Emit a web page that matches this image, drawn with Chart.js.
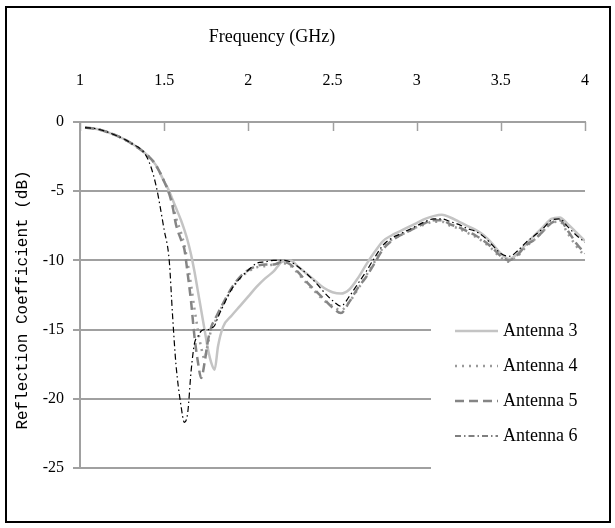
<!DOCTYPE html>
<html>
<head>
<meta charset="utf-8">
<script src="https://cdn.jsdelivr.net/npm/chart.js@4.4.1/dist/chart.umd.min.js"></script>
<style>
  body { margin: 0; background: #fff; }
  canvas { display: block; }
</style>
</head>
<body>
<canvas id="s11Chart" width="615" height="528"></canvas>
<script>
// Frequency samples (GHz) shared by all series
const freqs = [1.03, 1.1, 1.2, 1.3, 1.4, 1.45, 1.5, 1.53, 1.55, 1.57, 1.6, 1.62, 1.64, 1.66, 1.68, 1.7,
    1.72, 1.74, 1.76, 1.78, 1.8, 1.82, 1.85, 1.9, 1.95, 2.0, 2.05, 2.1, 2.15, 2.2, 2.25, 2.3, 2.35,
    2.4, 2.45, 2.5, 2.55, 2.6, 2.65, 2.7, 2.75, 2.8, 2.85, 2.9, 2.95, 3.0, 3.05, 3.1, 3.15, 3.2,
    3.25, 3.3, 3.35, 3.4, 3.45, 3.5, 3.55, 3.6, 3.65, 3.7, 3.75, 3.8, 3.85, 3.9, 3.95, 4.0];

// Reflection coefficient (dB) per antenna
const antenna3 = [-0.4, -0.5, -0.9, -1.5, -2.4, -3.1, -4.3, -5.0, -5.6, -6.2, -7.1, -7.8, -8.6, -9.6, -10.8, -12.2,
    -13.6, -15.0, -16.4, -17.4, -17.9, -16.2, -14.8, -14.0, -13.3, -12.6, -11.9, -11.3, -10.8, -10.1, -10.0, -10.5, -11.0,
    -11.5, -12.0, -12.3, -12.4, -12.1, -11.3, -10.3, -9.4, -8.6, -8.2, -7.9, -7.6, -7.3, -7.0, -6.8, -6.7, -6.9,
    -7.2, -7.5, -7.8, -8.2, -8.8, -9.5, -9.9, -9.5, -8.8, -8.2, -7.6, -7.0, -6.9, -7.4, -8.0, -8.6];
const antenna4 = [-0.4, -0.5, -0.9, -1.5, -2.4, -3.1, -4.3, -5.1, -5.9, -6.9, -8.0, -8.9, -10.2, -11.8, -13.5, -15.0,
    -16.3, -17.1, -16.0, -15.0, -14.5, -13.9, -13.2, -12.1, -11.3, -10.8, -10.5, -10.4, -10.3, -10.2, -10.4, -11.0, -11.7,
    -12.3, -12.9, -13.3, -13.6, -13.0, -12.1, -11.1, -10.1, -9.1, -8.5, -8.2, -7.9, -7.6, -7.4, -7.2, -7.2, -7.5,
    -7.7, -8.0, -8.3, -8.7, -9.2, -9.8, -10.1, -9.7, -9.0, -8.5, -7.9, -7.3, -7.2, -8.1, -9.0, -9.7];
const antenna5 = [-0.4, -0.5, -0.9, -1.5, -2.4, -3.1, -4.3, -5.2, -6.1, -7.4, -8.5, -9.2, -11.0, -13.0, -15.5, -17.3,
    -18.5, -17.4, -15.8, -14.8, -14.3, -13.8, -13.1, -12.0, -11.2, -10.7, -10.4, -10.3, -10.3, -10.1, -10.3, -10.9, -11.6,
    -12.2, -12.8, -13.4, -13.8, -13.0, -12.0, -11.2, -10.2, -9.2, -8.6, -8.2, -7.9, -7.6, -7.3, -7.1, -7.1, -7.4,
    -7.6, -7.9, -8.2, -8.6, -9.1, -9.7, -10.0, -9.6, -8.9, -8.5, -7.9, -7.3, -7.1, -7.9, -8.8, -9.5];
const antenna6 = [-0.4, -0.5, -0.9, -1.5, -2.6, -4.5, -7.8, -10.0, -14.0, -17.5, -20.5, -21.7, -21.0, -18.0, -16.0, -15.5,
    -15.1, -15.0, -15.0, -14.9, -14.7, -14.1, -13.3, -12.1, -11.3, -10.7, -10.2, -10.1, -10.0, -10.0, -10.1, -10.5, -11.0,
    -11.6, -12.3, -12.9, -13.3, -12.6, -11.7, -10.8, -9.8, -8.9, -8.4, -8.1, -7.8, -7.5, -7.2, -7.0, -7.0, -7.2,
    -7.4, -7.7, -7.9, -8.3, -8.9, -9.5, -9.7, -9.3, -8.7, -8.2, -7.7, -7.1, -7.0, -7.6, -8.2, -8.7];

const seriesNames = ['Antenna 3', 'Antenna 4', 'Antenna 5', 'Antenna 6'];
const xTicks = [1, 1.5, 2, 2.5, 3, 3.5, 4];
const yTicks = [0, -5, -10, -15, -20, -25];

const AXIS_GRAY = '#a0a0a0';

function toPoints(values) {
    return freqs.map((f, i) => ({ x: f, y: values[i] }));
}

/**
 * Frame, titles, inward x ticks and the overlaid legend box
 */
const decorPlugin = {
    id: 'decor',
    beforeDraw(chart) {
        const ctx = chart.ctx;
        ctx.save();
        ctx.fillStyle = '#fff';
        ctx.fillRect(0, 0, chart.width, chart.height);
        ctx.restore();
    },
    afterDatasetsDraw(chart) {
        const ctx = chart.ctx;
        const xs = chart.scales.x;
        const area = chart.chartArea;
        ctx.save();

        // inward tick marks on the top axis
        ctx.strokeStyle = AXIS_GRAY;
        ctx.lineWidth = 1.5;
        xTicks.forEach(v => {
            const px = Math.round(xs.getPixelForValue(v)) + 0.5;
            ctx.beginPath();
            ctx.moveTo(px, area.top);
            ctx.lineTo(px, area.top + 9);
            ctx.stroke();
        });

        // legend box over the plot
        ctx.fillStyle = '#fff';
        ctx.fillRect(431, 300, 158, 176);
        const rows = [331, 366, 401, 436];
        chart.data.datasets.forEach((ds, i) => {
            const y = rows[i];
            ctx.beginPath();
            ctx.strokeStyle = ds.borderColor;
            ctx.lineWidth = ds.borderWidth;
            ctx.setLineDash(ds.borderDash || []);
            ctx.moveTo(455, y);
            ctx.lineTo(498, y);
            ctx.stroke();
            ctx.setLineDash([]);
            ctx.fillStyle = '#000';
            ctx.font = '18px "Liberation Serif"';
            ctx.textAlign = 'left';
            ctx.textBaseline = 'middle';
            ctx.fillText(seriesNames[i], 503, y);
        });

        // axis titles
        ctx.fillStyle = '#000';
        ctx.font = '18px "Liberation Serif"';
        ctx.textAlign = 'center';
        ctx.textBaseline = 'middle';
        ctx.fillText('Frequency (GHz)', 272, 37);

        ctx.translate(23, 300);
        ctx.rotate(-Math.PI / 2);
        ctx.font = '16px "Liberation Mono"';
        ctx.fillText('Reflection Coefficient (dB)', 0, 0);
        ctx.restore();

        // outer frame
        ctx.save();
        ctx.strokeStyle = '#000';
        ctx.lineWidth = 2;
        ctx.strokeRect(6, 7, 604, 515);
        ctx.restore();
    }
};

const ctx = document.getElementById('s11Chart').getContext('2d');

new Chart(ctx, {
    type: 'line',
    data: {
        datasets: [{
            label: seriesNames[0],
            data: toPoints(antenna3),
            borderColor: '#c4c4c4',
            borderWidth: 2.5,
            order: 4
        }, {
            label: seriesNames[1],
            data: toPoints(antenna4),
            borderColor: '#9a9a9a',
            borderWidth: 2.5,
            borderDash: [2, 5],
            order: 3
        }, {
            label: seriesNames[2],
            data: toPoints(antenna5),
            borderColor: '#858585',
            borderWidth: 2.5,
            borderDash: [9, 5],
            order: 2
        }, {
            label: seriesNames[3],
            data: toPoints(antenna6),
            borderColor: '#000',
            borderWidth: 1.2,
            borderDash: [6, 3, 1.5, 3],
            order: 1
        }]
    },
    options: {
        responsive: false,
        animation: false,
        devicePixelRatio: 1,
        layout: {
            padding: { left: 0, right: 30, top: 0, bottom: 60 }
        },
        elements: {
            point: { radius: 0 },
            line: { cubicInterpolationMode: 'monotone', fill: false }
        },
        plugins: {
            legend: { display: false },
            tooltip: { enabled: false }
        },
        scales: {
            x: {
                type: 'linear',
                position: 'top',
                min: 1,
                max: 4,
                afterFit: scale => {
                    scale.height = 122;
                    scale.paddingLeft = 0;
                    scale.paddingRight = 0;
                },
                afterBuildTicks: scale => { scale.ticks = xTicks.map(v => ({ value: v })); },
                grid: {
                    drawOnChartArea: false,
                    drawTicks: false
                },
                border: { color: AXIS_GRAY, width: 2 },
                ticks: {
                    padding: 32,
                    color: '#000',
                    font: { family: 'Liberation Serif', size: 16 },
                    maxRotation: 0,
                    callback: value => String(value)
                }
            },
            y: {
                min: -25,
                max: 0,
                afterFit: scale => {
                    scale.width = 80;
                    scale.paddingTop = 0;
                    scale.paddingBottom = 0;
                },
                afterBuildTicks: scale => { scale.ticks = yTicks.map(v => ({ value: v })); },
                grid: {
                    color: AXIS_GRAY,
                    lineWidth: 2,
                    tickLength: 7
                },
                border: { color: AXIS_GRAY, width: 2 },
                ticks: {
                    padding: 9,
                    color: '#000',
                    font: { family: 'Liberation Serif', size: 16 },
                    callback: value => String(value)
                }
            }
        }
    },
    plugins: [decorPlugin]
});
</script>
</body>
</html>
